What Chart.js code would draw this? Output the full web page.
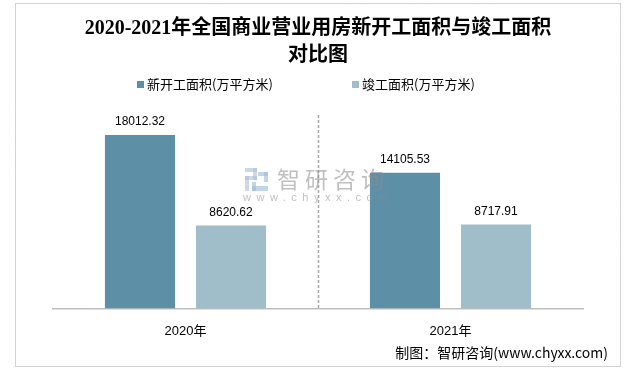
<!DOCTYPE html>
<html>
<head>
<meta charset="utf-8">
<script src="https://cdn.jsdelivr.net/npm/chart.js@4/dist/chart.umd.min.js"></script>
<style>
    html, body { margin: 0; padding: 0; background: #fff; }
    #wrap { width: 629px; height: 372px; position: relative; }
</style>
</head>
<body>
<div id="wrap"><canvas id="chart" width="629" height="372"></canvas></div>
<script>
const categories = ['2020年', '2021年'];
const seriesNames = ['新开工面积(万平方米)', '竣工面积(万平方米)'];
const newStartArea = [18012.32, 14105.53];
const completedArea = [8620.62, 8717.91];
const titleLines = ['2020-2021年全国商业营业用房新开工面积与竣工面积', '对比图'];
const sourceText = '制图：智研咨询(www.chyxx.com)';

const colors = ['#5d90a6', '#a0bdca'];
const sansFont = '"Liberation Sans", Arial, "Noto Sans CJK SC", sans-serif';
const cjkFont = '"Noto Sans CJK SC", "Liberation Sans", sans-serif';

/* ---------- PLUGINS ---------- */

const frame = {
    id: 'frame',
    beforeDraw(chart) {
        const ctx = chart.ctx;
        ctx.save();
        ctx.fillStyle = '#fff';
        ctx.fillRect(0, 0, chart.width, chart.height);
        ctx.strokeStyle = '#a6a6a6';
        ctx.lineWidth = 1;
        ctx.setLineDash([1, 1]);
        ctx.strokeRect(15.5, 3.5, 605, 363);
        ctx.restore();
    }
};

const legendBox = {
    id: 'legendBox',
    afterDraw(chart) {
        const ctx = chart.ctx;
        const items = [{ x: 137, tx: 147 }, { x: 352, tx: 362 }];
        ctx.save();
        ctx.font = '13px ' + cjkFont;
        ctx.textBaseline = 'middle';
        chart.data.datasets.forEach((ds, i) => {
            ctx.fillStyle = ds.backgroundColor;
            ctx.fillRect(items[i].x, 81, 7, 7);
            ctx.fillStyle = '#000';
            ctx.fillText(ds.label, items[i].tx, 84);
        });
        ctx.restore();
    }
};

const separator = {
    id: 'separator',
    beforeDatasetsDraw(chart) {
        const { ctx, chartArea, scales } = chart;
        const x = Math.round((scales.x.getPixelForValue(0) + scales.x.getPixelForValue(1)) / 2) + 0.5;
        ctx.save();
        ctx.strokeStyle = '#a6a6a6';
        ctx.lineWidth = 1.5;
        ctx.setLineDash([3, 2]);
        ctx.beginPath();
        ctx.moveTo(x, chartArea.top - 1);
        ctx.lineTo(x, chartArea.bottom);
        ctx.stroke();
        ctx.restore();
    }
};

const valueLabels = {
    id: 'valueLabels',
    afterDatasetsDraw(chart) {
        const ctx = chart.ctx;
        ctx.save();
        ctx.font = '12px ' + sansFont;
        ctx.fillStyle = '#000';
        ctx.textAlign = 'center';
        ctx.textBaseline = 'middle';
        chart.data.datasets.forEach((ds, i) => {
            chart.getDatasetMeta(i).data.forEach((bar, j) => {
                ctx.fillText(ds.data[j].toFixed(2), bar.x, bar.y - 13);
            });
        });
        ctx.restore();
    }
};

const watermark = {
    id: 'watermark',
    afterDatasetsDraw(chart) {
        const ctx = chart.ctx;
        ctx.save();
        // logo
        ctx.fillStyle = 'rgba(170,190,215,0.6)';
        ctx.fillRect(245, 168, 12, 4);
        ctx.fillRect(253, 168, 4, 12);
        ctx.fillRect(245, 176, 12, 4);
        ctx.fillRect(245, 176, 4, 15);
        ctx.fillStyle = 'rgba(150,185,220,0.6)';
        ctx.fillRect(258, 172, 10, 4);
        ctx.fillRect(264, 172, 4, 10);
        ctx.fillRect(252, 186, 16, 5);
        ctx.fillRect(252, 182, 4, 9);
        // text
        ctx.fillStyle = 'rgba(140,140,140,0.55)';
        ctx.textBaseline = 'middle';
        ctx.font = '23px ' + cjkFont;
        ctx.letterSpacing = '5px';
        ctx.fillText('智研咨询', 277, 179);
        ctx.font = '11px ' + sansFont;
        ctx.letterSpacing = '5.5px';
        ctx.fillText('www.chyxx.com', 243, 198);
        ctx.restore();
    }
};

const source = {
    id: 'source',
    afterDraw(chart) {
        const ctx = chart.ctx;
        ctx.save();
        ctx.font = '14px ' + cjkFont;
        ctx.fillStyle = '#000';
        ctx.textAlign = 'right';
        ctx.textBaseline = 'middle';
        ctx.fillText(sourceText, 608, 353);
        ctx.restore();
    }
};

/* ---------- CHART ---------- */

new Chart(document.getElementById('chart'), {
    type: 'bar',
    data: {
        labels: categories,
        datasets: [
            { label: seriesNames[0], data: newStartArea, backgroundColor: colors[0] },
            { label: seriesNames[1], data: completedArea, backgroundColor: colors[1] }
        ]
    },
    options: {
        responsive: false,
        animation: false,
        devicePixelRatio: 1,
        layout: { padding: { left: 53, right: 46, top: 0, bottom: 18 } },
        datasets: {
            bar: { barPercentage: 0.77, categoryPercentage: 0.687 }
        },
        plugins: {
            legend: { display: false },
            tooltip: { enabled: false },
            title: {
                display: true,
                text: titleLines,
                color: '#000',
                font: {
                    family: '"Liberation Serif", "Noto Sans CJK SC", serif',
                    size: 20,
                    weight: 'bold',
                    lineHeight: 27 / 20
                },
                padding: { top: 15, bottom: 47 }
            }
        },
        scales: {
            x: {
                grid: { display: false, drawTicks: false },
                border: { color: '#bfbfbf', width: 1.5 },
                ticks: {
                    color: '#000',
                    padding: 15,
                    font: { family: sansFont, size: 13 }
                }
            },
            y: {
                display: false,
                min: 0,
                max: 20000
            }
        }
    },
    plugins: [frame, separator, valueLabels, watermark, legendBox, source]
});
</script>
</body>
</html>
